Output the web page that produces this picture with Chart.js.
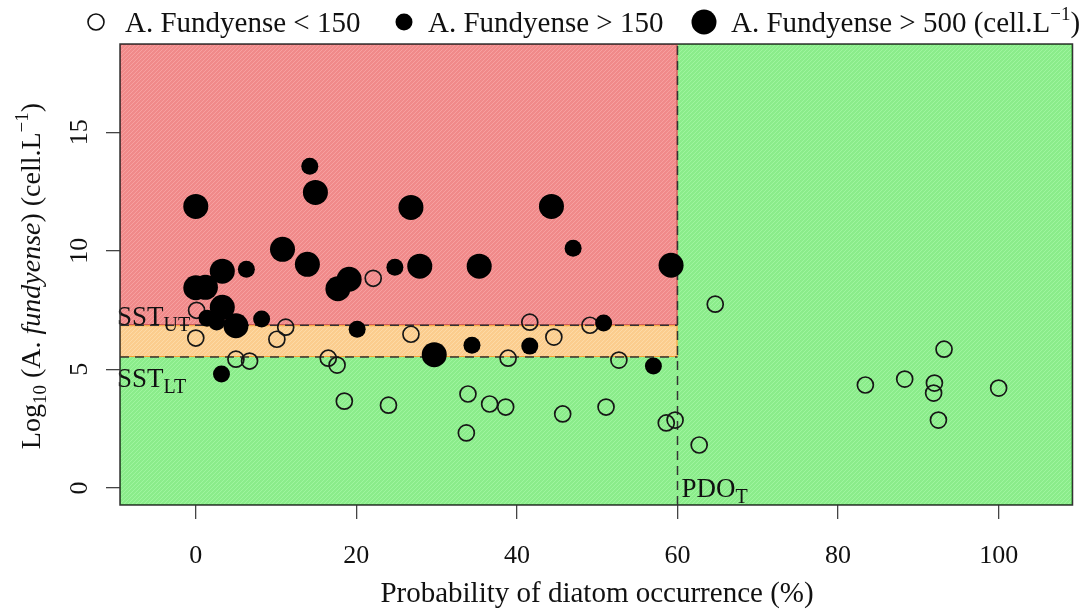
<!DOCTYPE html>
<html lang="en">
<head>
<meta charset="UTF-8">
<title>A. fundyense vs diatom occurrence</title>
<script src="https://cdn.jsdelivr.net/npm/chart.js"></script>
<style>
  html, body { margin: 0; padding: 0; background: #fff; }
  #wrap { width: 1085px; height: 612px; position: relative; }
</style>
</head>
<body>
<div id="wrap"><canvas id="myChart" width="1085" height="612"></canvas></div>
<script>
// data: x = probability of diatom occurrence (%), y = log10 cells
const lowX  = [0.1, 11.2, 10.1, 0, 5.0, 6.7, 16.5, 17.6, 22.1, 26.8, 38.9, 41.6, 18.5, 24.0, 33.9, 36.6, 38.6, 33.7,
               49.1, 44.6, 52.7, 45.7, 51.1, 58.6, 59.7, 64.7, 62.7, 93.2, 83.4, 88.3, 92.0, 91.9, 100, 92.5];
const lowY  = [7.49, 6.78, 6.27, 6.32, 5.43, 5.35, 5.47, 5.18, 8.84, 6.48, 5.47, 6.99, 3.66, 3.49, 3.96, 3.54, 3.41, 2.32,
               6.86, 6.36, 5.39, 3.12, 3.41, 2.74, 2.86, 7.75, 1.81, 5.85, 4.34, 4.59, 4.42, 4.00, 4.21, 2.86];
const midX  = [14.2, 6.3, 24.8, 47.0, 1.4, 2.6, 8.2, 20.1, 34.4, 41.6, 50.8, 57.0, 3.2];
const midY  = [13.56, 9.22, 9.31, 10.11, 7.16, 7.0, 7.12, 6.69, 6.02, 5.98, 6.95, 5.14, 4.80];
const highX = [0, 14.9, 26.8, 44.3, 10.8, 13.9, 19.1, 17.7, 27.9, 35.3, 59.2, 3.3, 0, 1.2, 3.3, 5.0, 29.7];
const highY = [11.87, 12.46, 11.83, 11.87, 10.06, 9.43, 8.80, 8.40, 9.35, 9.35, 9.39, 9.14, 8.44, 8.46, 7.62, 6.84, 5.62];

const xTicks = [0, 20, 40, 60, 80, 100];
const yTicks = [0, 5, 10, 15];
const xLimits = [-9.44, 109.2];
const yLimits = [-0.72, 18.72];

// thresholds
const sstUT = 6.86;
const sstLT = 5.52;
const pdoT = 60;

const serif = '"Liberation Serif", "DejaVu Serif", serif';

function pts(xs, ys) {
  return xs.map((x, i) => ({ x: x, y: ys[i] }));
}

function hatch(ctx, base, line) {
  const c = document.createElement('canvas');
  c.width = 4; c.height = 4;
  const g = c.getContext('2d');
  g.fillStyle = base;
  g.fillRect(0, 0, 4, 4);
  g.strokeStyle = line;
  g.lineWidth = 1;
  g.beginPath();
  g.moveTo(-1, 5); g.lineTo(5, -1);
  g.stroke();
  return ctx.createPattern(c, 'repeat');
}

// draw a run of text pieces [text, font, yShift]
function drawRich(ctx, parts, x, y) {
  let cx = x;
  parts.forEach(p => {
    ctx.font = p[1];
    ctx.fillText(p[0], cx, y + (p[2] || 0));
    cx += ctx.measureText(p[0]).width;
  });
  return cx;
}
function richWidth(ctx, parts) {
  let w = 0;
  parts.forEach(p => { ctx.font = p[1]; w += ctx.measureText(p[0]).width; });
  return w;
}

const zones = {
  id: 'zones',
  beforeDatasetsDraw(chart) {
    const ctx = chart.ctx;
    const xs = chart.scales.x, ys = chart.scales.y;
    const a = chart.chartArea;
    const xT = xs.getPixelForValue(pdoT);
    const yU = ys.getPixelForValue(sstUT);
    const yL = ys.getPixelForValue(sstLT);
    ctx.save();
    // green everywhere
    ctx.fillStyle = hatch(ctx, '#8bec8b', '#9ff59f');
    ctx.fillRect(a.left, a.top, a.right - a.left, a.bottom - a.top);
    ctx.strokeStyle = '#3fd83f';
    ctx.lineWidth = 1;
    ctx.strokeRect(a.left + 0.5, a.top + 0.5, a.right - a.left - 1, a.bottom - a.top - 1);
    // red
    ctx.fillStyle = hatch(ctx, '#f08a8a', '#f7a0a0');
    ctx.fillRect(a.left, a.top, xT - a.left, yU - a.top);
    ctx.strokeStyle = '#c84848';
    ctx.strokeRect(a.left + 0.5, a.top + 0.5, xT - a.left - 1, yU - a.top - 1);
    // orange
    ctx.fillStyle = hatch(ctx, '#fbcd8e', '#fddaa6');
    ctx.fillRect(a.left, yU, xT - a.left, yL - yU);
    ctx.strokeStyle = '#f5a030';
    ctx.strokeRect(a.left + 0.5, yU + 0.5, xT - a.left - 1, yL - yU - 1);

    // dashed threshold lines
    ctx.strokeStyle = '#333';
    ctx.lineWidth = 1.5;
    ctx.setLineDash([9, 6]);
    ctx.beginPath();
    ctx.moveTo(a.left, yU); ctx.lineTo(xT, yU);
    ctx.moveTo(a.left, yL); ctx.lineTo(xT, yL);
    ctx.moveTo(xT, a.bottom); ctx.lineTo(xT, a.top);
    ctx.stroke();
    ctx.setLineDash([]);

    // threshold labels
    ctx.fillStyle = '#111';
    ctx.textBaseline = 'alphabetic';
    ctx.textAlign = 'left';
    drawRich(ctx, [['SST', '27px ' + serif, 0], ['UT', '20px ' + serif, 6]], a.left - 3, yU);
    drawRich(ctx, [['SST', '27px ' + serif, 0], ['LT', '20px ' + serif, 6]], a.left - 3, yL + 30);
    drawRich(ctx, [['PDO', '27px ' + serif, 0], ['T', '20px ' + serif, 6]], xT + 4, a.bottom - 8);
    ctx.restore();
  },
  afterDatasetsDraw(chart) {
    const ctx = chart.ctx;
    const a = chart.chartArea;
    ctx.save();
    ctx.strokeStyle = '#333';
    ctx.lineWidth = 1.5;
    ctx.strokeRect(a.left, a.top, a.right - a.left, a.bottom - a.top);
    ctx.restore();
  },
  afterDraw(chart) {
    const ctx = chart.ctx;
    const ys = chart.scales.y;
    const a = chart.chartArea;
    ctx.save();
    ctx.fillStyle = '#111';
    // y tick labels, rotated like base R
    ctx.font = '26px ' + serif;
    ctx.textAlign = 'center';
    ctx.textBaseline = 'middle';
    yTicks.forEach(v => {
      ctx.save();
      ctx.translate(80, ys.getPixelForValue(v));
      ctx.rotate(-Math.PI / 2);
      ctx.fillText(String(v), 0, 0);
      ctx.restore();
    });
    // x title
    ctx.font = '29px ' + serif;
    ctx.textBaseline = 'middle';
    ctx.fillText('Probability of diatom occurrence (%)', 597, 594);
    // y title
    const yParts = [
      ['Log', '28px ' + serif, 0], ['10', '19px ' + serif, 6], [' (A. ', '28px ' + serif, 0],
      ['fundyense', 'italic 28px ' + serif, 0], [') (cell.L', '28px ' + serif, 0],
      ['\u22121', '19px ' + serif, -12], [')', '28px ' + serif, 0]
    ];
    ctx.save();
    ctx.translate(40, 276);
    ctx.rotate(-Math.PI / 2);
    ctx.textAlign = 'left';
    ctx.textBaseline = 'alphabetic';
    drawRich(ctx, yParts, -richWidth(ctx, yParts) / 2, 0);
    ctx.restore();

    // legend
    ctx.textAlign = 'left';
    ctx.textBaseline = 'alphabetic';
    ctx.lineWidth = 1.6;
    ctx.strokeStyle = '#111';
    ctx.beginPath(); ctx.arc(96, 22, 8, 0, Math.PI * 2); ctx.stroke();
    drawRich(ctx, [['A. Fundyense < 150', '29px ' + serif, 0]], 125, 32);
    ctx.fillStyle = '#000';
    ctx.beginPath(); ctx.arc(404, 22, 8.5, 0, Math.PI * 2); ctx.fill();
    ctx.fillStyle = '#111';
    drawRich(ctx, [['A. Fundyense > 150', '29px ' + serif, 0]], 428, 32);
    ctx.fillStyle = '#000';
    ctx.beginPath(); ctx.arc(704, 22, 12.5, 0, Math.PI * 2); ctx.fill();
    ctx.fillStyle = '#111';
    drawRich(ctx, [['A. Fundyense > 500 (cell.L', '29px ' + serif, 0], ['\u22121', '19px ' + serif, -12],
                   [')', '29px ' + serif, 0]], 731, 32);
    ctx.restore();
  }
};

const ctx = document.getElementById('myChart').getContext('2d');
new Chart(ctx, {
  type: 'scatter',
  data: {
    datasets: [
      {
        label: 'A. Fundyense > 500',
        data: pts(highX, highY),
        pointRadius: 12.5,
        pointBackgroundColor: '#000',
        pointBorderColor: '#000',
        pointBorderWidth: 0
      },
      {
        label: 'A. Fundyense > 150',
        data: pts(midX, midY),
        pointRadius: 8.5,
        pointBackgroundColor: '#000',
        pointBorderColor: '#000',
        pointBorderWidth: 0
      },
      {
        label: 'A. Fundyense < 150',
        data: pts(lowX, lowY),
        pointRadius: 8,
        pointBackgroundColor: 'rgba(0,0,0,0)',
        pointBorderColor: '#161616',
        pointBorderWidth: 1.7
      }
    ]
  },
  options: {
    responsive: false,
    animation: false,
    events: [],
    layout: { padding: { left: 0, top: 44, right: 10, bottom: 0 } },
    plugins: {
      legend: { display: false },
      tooltip: { enabled: false }
    },
    scales: {
      x: {
        type: 'linear',
        min: xLimits[0],
        max: xLimits[1],
        afterBuildTicks: s => { s.ticks = xTicks.map(v => ({ value: v })); },
        afterFit: s => { s.height = 107; },
        border: { display: false },
        grid: { drawOnChartArea: false, drawTicks: true, tickLength: 14, color: '#444', lineWidth: 1.3 },
        ticks: {
          padding: 22,
          maxRotation: 0,
          color: '#111',
          font: { family: serif, size: 26 }
        }
      },
      y: {
        type: 'linear',
        min: yLimits[0],
        max: yLimits[1],
        afterBuildTicks: s => { s.ticks = yTicks.map(v => ({ value: v })); },
        afterFit: s => { s.width = 120; },
        border: { display: false },
        grid: { drawOnChartArea: false, drawTicks: true, tickLength: 14, color: '#444', lineWidth: 1.3 },
        ticks: { display: false }
      }
    }
  },
  plugins: [zones]
});
</script>
</body>
</html>
